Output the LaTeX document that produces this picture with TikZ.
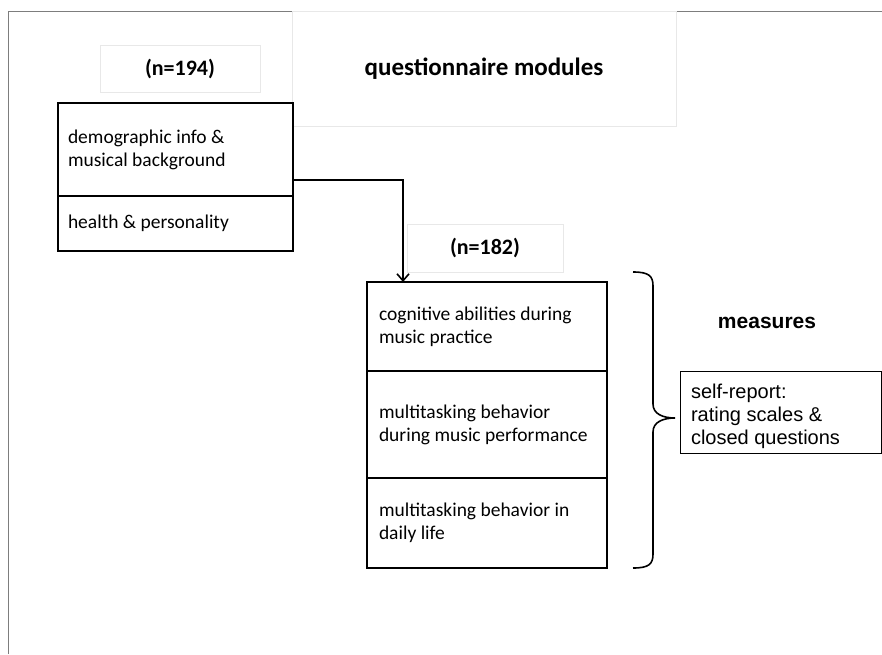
\documentclass[tikz,border=0pt]{standalone}
\usepackage{fontspec}
\setmainfont{Carlito}
\newfontfamily\arialfont{Liberation Sans}
\usepackage{tikz}
\usetikzlibrary{positioning}
\usetikzlibrary{arrows.meta,calc}
\definecolor{frame1} {RGB} {125, 125, 125}
\definecolor{faint1} {RGB} {232, 232, 232}
\tikzstyle{module}=[
  draw, line width=1.6pt, rectangle, align=flush left, outer sep=0pt,
  inner ysep=0pt, font=\fontsize{19.5}{23}\selectfont
]
\tikzstyle{countbox}=[
  draw=faint1, line width=0.6pt, outer sep=0pt, font=\bfseries\fontsize{22}{26}\selectfont
]
\tikzstyle{measure}=[font=\arialfont\fontsize{20}{23}\selectfont, align=flush left]

\begin{document}
\begin{tikzpicture}[x=1pt,y=-1pt,>={Straight Barb[length=7pt,width=12pt]}]
  \useasboundingbox (0,0) rectangle (882,654);
  \draw[frame1, line width=1pt] (8,654) -- (8,11) -- (882,11);

  \node[countbox, minimum width=384, minimum height=115] (title) at (484,69)
    {\fontsize{25}{30}\selectfont questionnaire modules};
  \node[countbox, minimum width=160, minimum height=47] (n194) at (180,69) {(n=194)};
  \node[countbox, minimum width=156, minimum height=48] (n182) at (485,248) {(n=182)};

  \node[module, anchor=north west, inner xsep=10pt, text width=215pt, minimum height=93pt]
    (demo) at (58,103) {demographic info \&\\musical background};
  \node[module, below=0pt of demo, inner xsep=10pt, text width=215pt, minimum height=55pt]
    (health) {health \& personality};

  \node[module, anchor=north west, inner xsep=12pt, text width=216pt, minimum height=89pt]
    (cog) at (367,282) {cognitive abilities during\\music practice};
  \node[module, below=0pt of cog, inner xsep=12pt, text width=216pt, minimum height=107pt]
    (perf) {multitasking behavior\\during music performance};
  \node[module, below=0pt of perf, inner xsep=12pt, text width=216pt, minimum height=90pt]
    (daily) {multitasking behavior in\\daily life};

  \coordinate (bend) at (403,180);
  \draw[->, line width=1.6pt] (demo.east |- bend) -- (bend) -- (cog.north -| bend);

  \coordinate (bt) at (633,272);
  \coordinate (bb) at (633,568);
  \coordinate (tip) at (675,418);
  \draw[line width=1.6pt] (bt) .. controls +(16,0) and +(0,-10) .. (653,286) -- (653,404)
    .. controls +(0,10) and +(-12,0) .. (tip)
    .. controls +(-12,0) and +(0,-10) .. (653,432) -- (653,554)
    .. controls +(0,10) and +(16,0) .. (bb);

  \node[measure, font=\arialfont\bfseries\fontsize{21}{26}\selectfont] (meas) at (767,323) {measures};
  \node[measure, draw, line width=0.8pt, anchor=north west, inner xsep=11pt, inner ysep=0pt,
    text width=179pt, minimum height=82pt, outer sep=0pt]
    (self) at (680,371) {\rule{0pt}{23pt}self-report:\\rating scales \&\\closed questions};
\end{tikzpicture}
\end{document}
